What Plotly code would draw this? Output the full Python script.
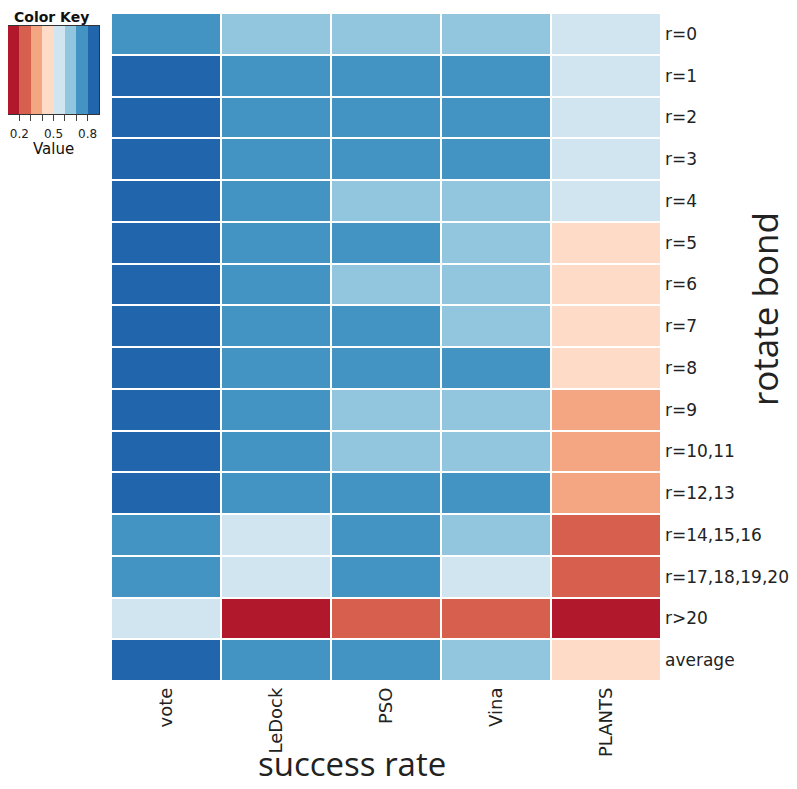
import plotly.graph_objects as go

# discrete RdBu key, 8 bins of 0.1 between 0.1 and 0.9
bin_colors = ["#B2182B", "#D6604D", "#F4A582", "#FDDBC7",
              "#D1E5F0", "#92C5DE", "#4393C3", "#2166AC"]
zmin, zmax = 0.1, 0.9

methods = ["vote", "LeDock", "PSO", "Vina", "PLANTS"]
groups = ["r=0", "r=1", "r=2", "r=3", "r=4", "r=5", "r=6", "r=7", "r=8", "r=9",
          "r=10,11", "r=12,13", "r=14,15,16", "r=17,18,19,20", "r>20", "average"]

# success rates (one list per method)
vote   = [0.75, 0.85, 0.85, 0.85, 0.85, 0.85, 0.85, 0.85, 0.85, 0.85, 0.85, 0.85, 0.75, 0.75, 0.55, 0.85]
ledock = [0.65, 0.75, 0.75, 0.75, 0.75, 0.75, 0.75, 0.75, 0.75, 0.75, 0.75, 0.75, 0.55, 0.55, 0.15, 0.75]
pso    = [0.65, 0.75, 0.75, 0.75, 0.65, 0.75, 0.65, 0.75, 0.75, 0.65, 0.65, 0.75, 0.75, 0.75, 0.25, 0.75]
vina   = [0.65, 0.75, 0.75, 0.75, 0.65, 0.65, 0.65, 0.65, 0.75, 0.65, 0.65, 0.75, 0.65, 0.55, 0.25, 0.65]
plants = [0.55, 0.55, 0.55, 0.55, 0.55, 0.45, 0.45, 0.45, 0.45, 0.35, 0.35, 0.35, 0.25, 0.25, 0.15, 0.45]

key_values = [0.15, 0.25, 0.35, 0.45, 0.55, 0.65, 0.75, 0.85]
key_ticks = [0.2, 0.3, 0.4, 0.5, 0.6, 0.7, 0.8]
key_ticktext = ["0.2", "", "", "0.5", "", "", "0.8"]


def step_scale(colors):
    n = len(colors)
    cs = []
    for i, c in enumerate(colors):
        cs.append([i / n, c])
        cs.append([(i + 1) / n, c])
    return cs


scale = step_scale(bin_colors)
cols = [vote, ledock, pso, vina, plants]
z = [[cols[j][i] for j in range(len(methods))] for i in range(len(groups))]

# the page body has an 8px margin, so work in window pixels minus 8
OFF = 8
W, H = 797 - OFF, 789 - OFF


def px(x):
    return min(max((x - OFF) / W, 0), 1)


def py(y):
    return min(max(1 - (y - OFF) / H, 0), 1)


fig = go.Figure()

fig.add_trace(go.Heatmap(
    z=z, x=methods, y=groups,
    colorscale=scale, zmin=zmin, zmax=zmax,
    xgap=2, ygap=2, showscale=False,
    xaxis="x", yaxis="y",
))

# colour key
fig.add_trace(go.Heatmap(
    z=[key_values], x=key_values, y=[0],
    colorscale=scale, zmin=zmin, zmax=zmax,
    showscale=False, xaxis="x2", yaxis="y2",
))

FONT = "DejaVu Sans, Verdana, sans-serif"

fig.update_layout(
    width=W, height=H,
    margin=dict(l=0, r=0, t=0, b=0),
    paper_bgcolor="white", plot_bgcolor="white",
    showlegend=False,
    xaxis=dict(domain=[px(111), px(661)], anchor="y", tickangle=-90,
               tickfont=dict(family=FONT, size=18, color="#222"),
               showgrid=False, zeroline=False, ticks="",
               ticklabelstandoff=2, automargin=False),
    yaxis=dict(domain=[py(681), py(13)], anchor="x", side="right",
               autorange="reversed",
               tickfont=dict(family=FONT, size=17, color="#222"),
               showgrid=False, zeroline=False, ticks="",
               ticklabelstandoff=3, automargin=False),
    xaxis2=dict(domain=[px(8), px(99)], anchor="y2", range=[zmin, zmax],
                tickvals=key_ticks, ticktext=key_ticktext, ticks="outside",
                ticklen=6, tickwidth=1, tickcolor="#444", showgrid=False,
                zeroline=False, showline=True, linecolor="#333", mirror=True,
                ticklabelstandoff=3, automargin=False,
                tickfont=dict(family=FONT, size=12, color="#222")),
    yaxis2=dict(domain=[py(114), py(26)], anchor="x2", range=[-0.5, 0.5],
                showticklabels=False, showgrid=False, zeroline=False,
                showline=True, linecolor="#333", mirror=True, ticks="",
                automargin=False),
)

fig.add_annotation(text="<b>Color Key</b>", x=px(51), y=py(17), xref="paper", yref="paper",
                   xanchor="center", yanchor="middle", showarrow=False,
                   font=dict(family=FONT, size=14, color="#111"))
fig.add_annotation(text="Value", x=px(53), y=py(149), xref="paper", yref="paper",
                   xanchor="center", yanchor="middle", showarrow=False,
                   font=dict(family=FONT, size=15, color="#111"))
fig.add_annotation(text="success rate", x=px(352), y=py(763), xref="paper", yref="paper",
                   xanchor="center", yanchor="middle", showarrow=False,
                   font=dict(family="Open Sans, sans-serif", size=33, color="#222"))
fig.add_annotation(text="rotate bond", x=px(764), y=py(309), xref="paper", yref="paper",
                   xanchor="center", yanchor="middle", showarrow=False, textangle=-90,
                   font=dict(family="Open Sans, sans-serif", size=35, color="#222"))

fig.write_html("out.html")
